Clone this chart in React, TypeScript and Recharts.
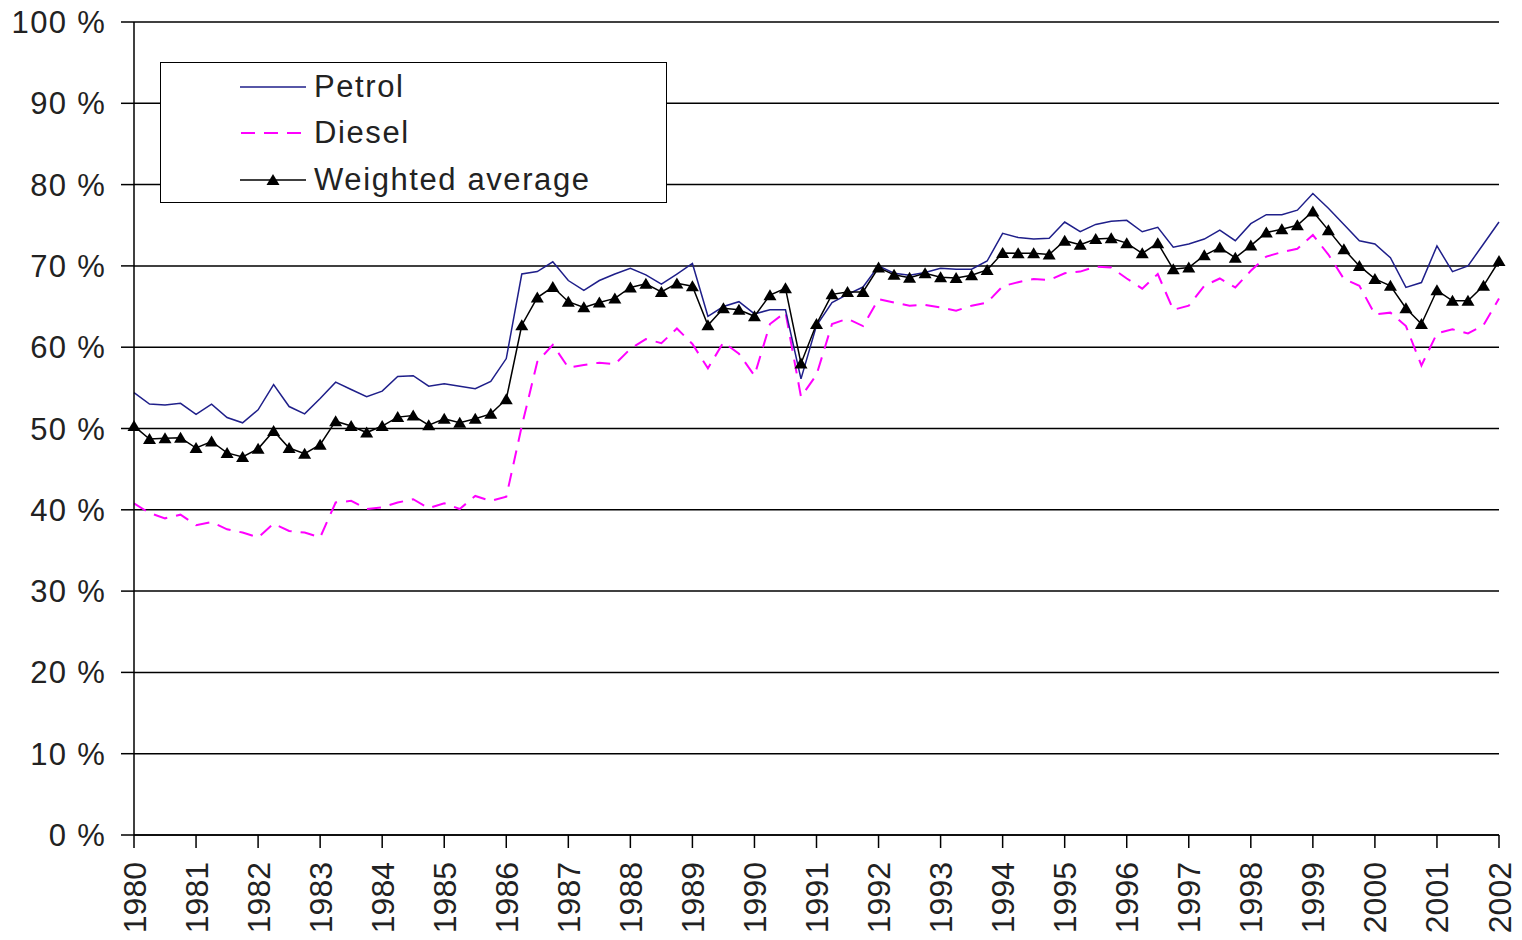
import { LineChart, Line, XAxis, YAxis, CartesianGrid, Legend } from "recharts";

// ─── Data ──────────────────────────────────────────────────────────────────

const years = [
  1980, 1981, 1982, 1983, 1984, 1985, 1986, 1987, 1988, 1989, 1990, 1991,
  1992, 1993, 1994, 1995, 1996, 1997, 1998, 1999, 2000, 2001, 2002,
];
const quarterNames = ["Q1", "Q2", "Q3", "Q4"];

// quarterly series, 1980 Q1 … 2002 Q1 (%)
const petrol = [
  54.4, 53.0, 52.9, 53.1, 51.75, 53.0, 51.35, 50.7, 52.3, 55.4,
  52.7, 51.8, 53.7, 55.7, 54.8, 53.9, 54.6, 56.4, 56.5, 55.2,
  55.5, 55.2, 54.9, 55.8, 58.6, 69.0, 69.3, 70.5, 68.2, 67.0,
  68.2, 69.0, 69.7, 68.9, 67.75, 69.0, 70.3, 63.8, 65.0, 65.6,
  64.1, 64.6, 64.6, 56.1, 62.65, 65.5, 66.5, 67.4, 70.0, 69.1,
  68.85, 69.2, 69.7, 69.6, 69.6, 70.6, 74.0, 73.5, 73.3, 73.4,
  75.4, 74.2, 75.1, 75.5, 75.6, 74.2, 74.75, 72.3, 72.7, 73.3,
  74.4, 73.1, 75.2, 76.3, 76.3, 76.85, 78.9, 77.1, 75.1, 73.1,
  72.7, 71.0, 67.35, 67.95, 72.45, 69.3, 70.0, 72.7, 75.4,
];

const diesel = [
  40.8, 39.6, 38.95, 39.4, 38.1, 38.5, 37.6, 37.2, 36.6, 38.3,
  37.4, 37.2, 36.6, 40.9, 41.1, 40.1, 40.3, 40.9, 41.3, 40.2,
  40.8, 40.1, 41.7, 41.1, 41.6, 50.3, 58.2, 60.3, 57.5, 57.8,
  58.1, 57.9, 59.8, 61.0, 60.5, 62.3, 60.4, 57.4, 60.6, 59.2,
  56.5, 62.85, 64.3, 53.9, 56.6, 62.85, 63.5, 62.6, 65.9, 65.5,
  65.1, 65.2, 64.9, 64.5, 65.1, 65.5, 67.5, 68.0, 68.4, 68.25,
  69.1, 69.3, 69.9, 69.8, 68.45, 67.2, 69.0, 64.6, 65.1, 67.55,
  68.45, 67.35, 69.4, 71.15, 71.7, 72.1, 73.8, 71.4, 68.4, 67.55,
  64.05, 64.25, 62.6, 57.75, 61.7, 62.2, 61.7, 62.7, 66.0,
];

const weighted = [
  50.3, 48.7, 48.8, 48.85, 47.6, 48.4, 47.0, 46.5, 47.5, 49.7,
  47.6, 46.9, 48.0, 50.9, 50.3, 49.5, 50.3, 51.4, 51.6, 50.4,
  51.2, 50.7, 51.2, 51.8, 53.6, 62.7, 66.1, 67.4, 65.6, 64.9,
  65.5, 66.0, 67.35, 67.8, 66.8, 67.85, 67.5, 62.7, 64.8, 64.6,
  63.8, 66.4, 67.25, 58.0, 62.85, 66.5, 66.8, 66.8, 69.8, 68.9,
  68.55, 69.1, 68.6, 68.5, 68.85, 69.5, 71.6, 71.55, 71.55, 71.4,
  73.1, 72.6, 73.3, 73.4, 72.8, 71.55, 72.8, 69.6, 69.8, 71.3,
  72.25, 71.0, 72.5, 74.1, 74.5, 75.0, 76.7, 74.4, 72.05, 70.0,
  68.4, 67.55, 64.8, 62.85, 67.0, 65.7, 65.7, 67.55, 70.6,
];

const yTicks = [0, 10, 20, 30, 40, 50, 60, 70, 80, 90, 100];

// ─── Derived table ─────────────────────────────────────────────────────────

const quarters = years
  .slice(0, -1)
  .flatMap((y) => quarterNames.map((q) => `${y} ${q}`))
  .concat(`${years[years.length - 1]} Q1`);

const data = quarters.map((quarter, i) => ({
  quarter,
  petrol: petrol[i],
  diesel: diesel[i],
  weighted: weighted[i],
}));

const yearTicks = years.map((y) => `${y} Q1`);

const FONT = "'Liberation Sans', Arial, Helvetica, sans-serif";
const PETROL = "#1f1f8a";
const DIESEL = "#ff00ff";

// ─── Pieces ────────────────────────────────────────────────────────────────

function YearTick({ x, y, payload }: { x?: number; y?: number; payload?: { value: string } }) {
  if (x == null || y == null || !payload) return null;
  return (
    <text
      transform={`translate(${x},${y + 12}) rotate(-90)`}
      textAnchor="end"
      dy="0.36em"
      fill="#222"
      fontSize={32}
      fontFamily={FONT}
    >
      {payload.value.slice(0, 4)}
    </text>
  );
}

function TriangleDot({ cx, cy }: { cx?: number; cy?: number }) {
  if (cx == null || cy == null) return null;
  return <path d={`M${cx},${cy - 6} L${cx + 6.5},${cy + 5} L${cx - 6.5},${cy + 5} Z`} fill="#000" />;
}

function LegendBox() {
  const rows = [
    { label: "Petrol", top: 25, kind: "petrol" },
    { label: "Diesel", top: 71, kind: "diesel" },
    { label: "Weighted average", top: 118, kind: "weighted" },
  ];
  return (
    <div
      style={{
        position: "relative",
        width: 507,
        height: 141,
        boxSizing: "border-box",
        border: "1.5px solid #000",
        background: "#fff",
        fontFamily: FONT,
      }}
    >
      {rows.map((r) => (
        <div
          key={r.label}
          style={{
            position: "absolute",
            left: 79,
            top: r.top - 21,
            height: 40,
            display: "flex",
            alignItems: "center",
          }}
        >
          <svg width={66} height={20}>
            {r.kind === "petrol" && <line x1={0} y1={10} x2={66} y2={10} stroke={PETROL} strokeWidth={1.5} />}
            {r.kind === "diesel" && (
              <line x1={1} y1={10} x2={66} y2={10} stroke={DIESEL} strokeWidth={2} strokeDasharray="14 9" />
            )}
            {r.kind === "weighted" && (
              <>
                <line x1={0} y1={10} x2={66} y2={10} stroke="#000" strokeWidth={1.5} />
                <TriangleDot cx={33} cy={10} />
              </>
            )}
          </svg>
          <span style={{ marginLeft: 8, fontSize: 31, letterSpacing: 1.6, color: "#222", lineHeight: "40px" }}>
            {r.label}
          </span>
        </div>
      ))}
    </div>
  );
}

// ─── Chart ─────────────────────────────────────────────────────────────────

export default function App() {
  return (
    <div style={{ position: "fixed", left: 0, top: 0, width: 1522, height: 940, background: "#fff" }}>
      <LineChart width={1522} height={940} data={data} margin={{ top: 22, right: 23, bottom: 0, left: 0 }}>
        <CartesianGrid horizontal vertical={false} stroke="#000" strokeWidth={1.5} />
        <XAxis
          dataKey="quarter"
          scale="point"
          padding={{ left: 0, right: 0 }}
          ticks={yearTicks}
          interval={0}
          height={105}
          tickSize={13}
          tick={<YearTick />}
          axisLine={{ stroke: "#000", strokeWidth: 1.5 }}
          tickLine={{ stroke: "#000", strokeWidth: 1.5 }}
        />
        <YAxis
          domain={[0, 100]}
          ticks={yTicks}
          interval={0}
          width={134}
          tickSize={13}
          tickMargin={15}
          tickFormatter={(v: number) => `${v} %`}
          tick={{ fill: "#222", fontSize: 31, fontFamily: FONT, letterSpacing: 1.3 }}
          axisLine={{ stroke: "#000", strokeWidth: 1.5 }}
          tickLine={{ stroke: "#000", strokeWidth: 1.5 }}
        />
        <Legend
          layout="vertical"
          align="center"
          verticalAlign="middle"
          wrapperStyle={{ position: "absolute", left: 160, top: 62, width: 507, height: 141 }}
          content={() => <LegendBox />}
        />
        <Line
          type="linear"
          dataKey="diesel"
          name="Diesel"
          stroke={DIESEL}
          strokeWidth={2}
          strokeDasharray="14 9"
          dot={false}
          isAnimationActive={false}
        />
        <Line
          type="linear"
          dataKey="petrol"
          name="Petrol"
          stroke={PETROL}
          strokeWidth={1.5}
          dot={false}
          isAnimationActive={false}
        />
        <Line
          type="linear"
          dataKey="weighted"
          name="Weighted average"
          stroke="#000"
          strokeWidth={1.5}
          dot={(p: { cx?: number; cy?: number; index?: number }) => <TriangleDot key={p.index} cx={p.cx} cy={p.cy} />}
          isAnimationActive={false}
        />
      </LineChart>
    </div>
  );
}
